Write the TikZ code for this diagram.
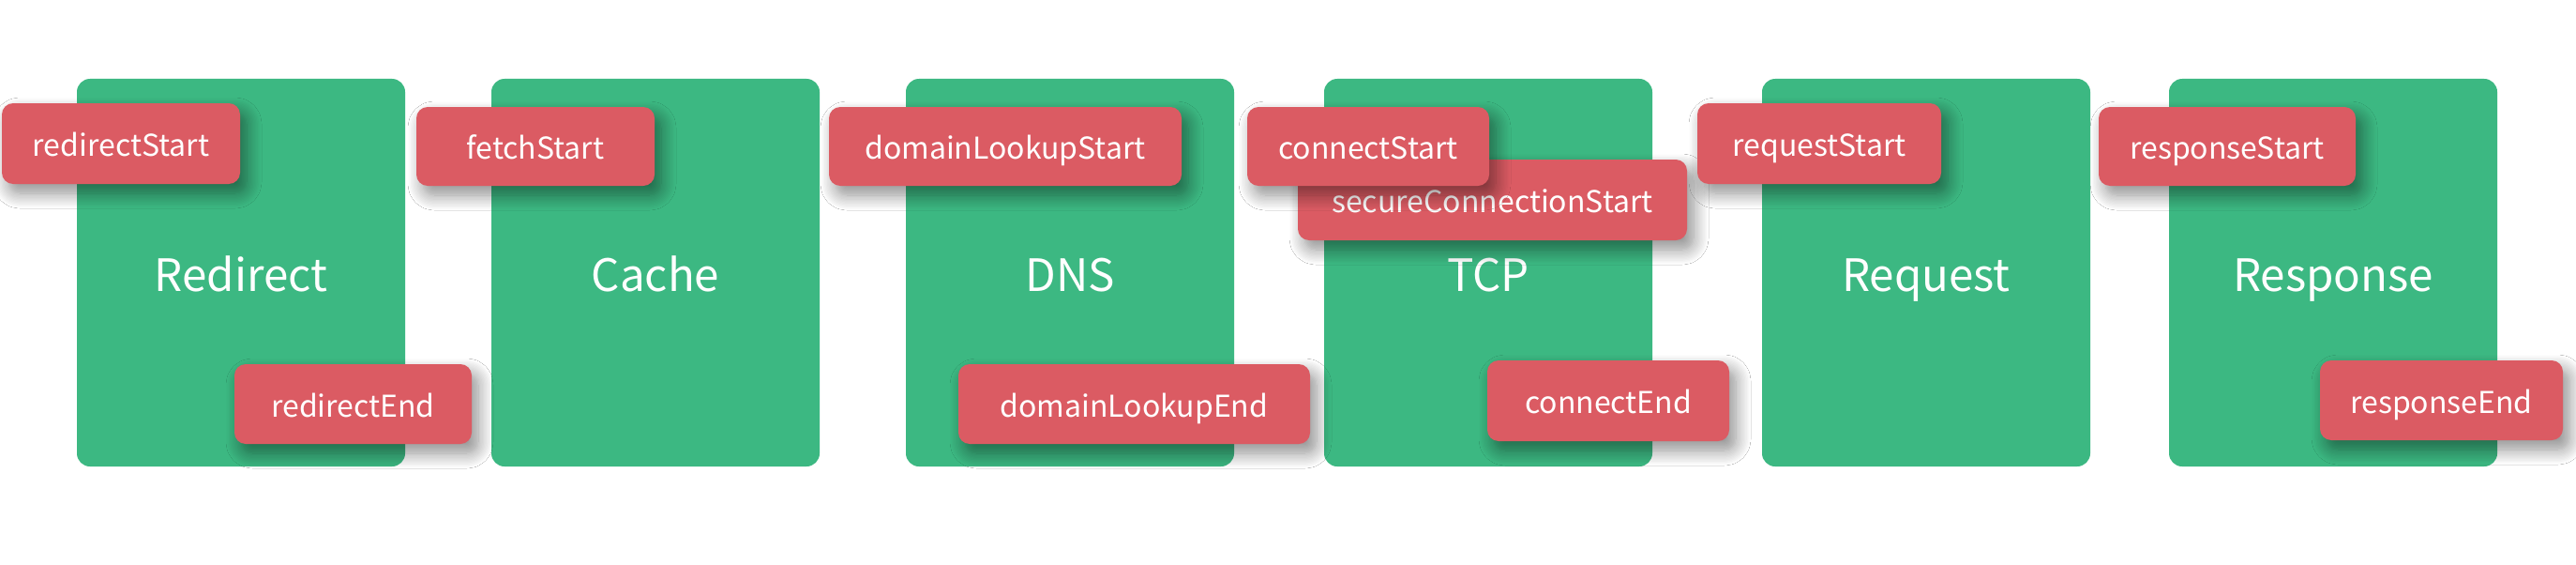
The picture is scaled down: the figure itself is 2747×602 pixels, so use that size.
\documentclass[tikz,border=0pt]{standalone}
\usepackage{fontspec}
\setmainfont{Noto Sans CJK SC}
\usetikzlibrary{shadows.blur}
\definecolor{boxgreen}{HTML}{3CB882}
\definecolor{lblred}{HTML}{DB5B63}
\begin{document}
\begin{tikzpicture}[x=1pt,y=-1pt,
  stage/.style={fill=boxgreen, draw=none, rounded corners=14pt, inner sep=0pt,
    minimum width=350pt, minimum height=413pt, text=white,
    font=\fontsize{47.5}{56}\selectfont, text height=40pt, text depth=1pt},
  lbl/.style={fill=lblred, draw=none, rounded corners=12pt, inner sep=0pt,
    text=white, font=\fontsize{32}{38}\selectfont, text height=28pt, text depth=1pt,
    blur shadow={shadow xshift=7pt, shadow yshift=-10pt, shadow blur radius=16pt,
      shadow blur steps=12, shadow opacity=45}}]
\useasboundingbox (0,0) rectangle (2747,602);
\fill[white] (0,0) rectangle (2747,602);
% stages
\node[stage] (redirect) at (257,290.5) {Redirect};
\node[stage] (cache) at (699,290.5) {Cache};
\node[stage] (dns) at (1141,290.5) {DNS};
\node[stage] (tcp) at (1587,290.5) {TCP};
\node[stage] (request) at (2054,290.5) {Request};
\node[stage] (response) at (2488,290.5) {Response};
% timing labels
\node[lbl, minimum width=254pt, minimum height=86pt] (redirectStart) at (129,153) {redirectStart};
\node[lbl, minimum width=253pt, minimum height=85pt] (redirectEnd) at (376.5,430.5) {redirectEnd};
\node[lbl, minimum width=254pt, minimum height=84pt] (fetchStart) at (571,156) {fetchStart};
\node[lbl, minimum width=376pt, minimum height=84pt] (domainLookupStart) at (1072,156) {domainLookupStart};
\node[lbl, minimum width=375pt, minimum height=85pt] (domainLookupEnd) at (1209.5,430.5) {domainLookupEnd};
\node[lbl, minimum width=415pt, minimum height=86pt] (secureConnectionStart) at (1591.5,213) {secureConnectionStart};
\node[lbl, minimum width=258pt, minimum height=84pt] (connectStart) at (1459,156) {connectStart};
\node[lbl, minimum width=258pt, minimum height=86pt] (connectEnd) at (1715,427) {connectEnd};
\node[lbl, minimum width=260pt, minimum height=86pt] (requestStart) at (1940,153) {requestStart};
\node[lbl, minimum width=274pt, minimum height=84pt] (responseStart) at (2375,156) {responseStart};
\node[lbl, minimum width=259pt, minimum height=85pt] (responseEnd) at (2603.5,426.5) {responseEnd};
\end{tikzpicture}
\end{document}
